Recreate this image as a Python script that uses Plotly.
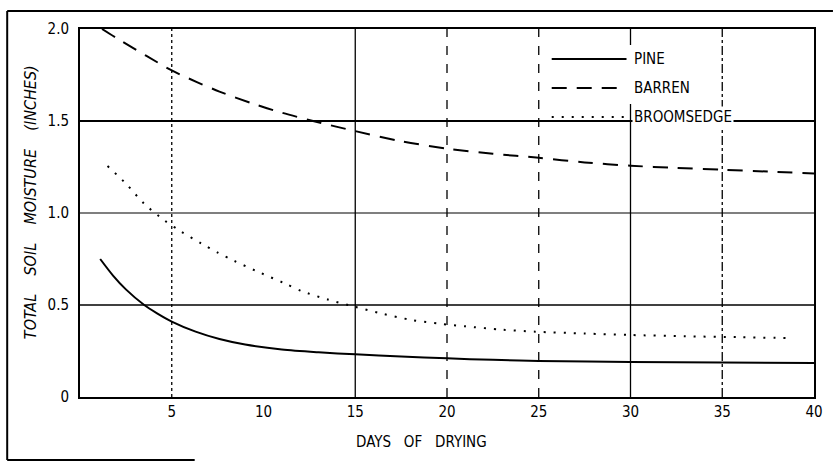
import plotly.graph_objects as go

# ---------------- data ----------------
pine_days = [1.1, 1.8, 2.5, 3.5, 4.2, 5.0, 6.3, 7.6, 9.0, 11.0, 13.0, 15.0, 17.5, 20.0, 22.5, 25.0, 30.0, 35.0, 40.0]
pine_moisture = [0.75, 0.66, 0.585, 0.50, 0.455, 0.41, 0.355, 0.315, 0.285, 0.258, 0.243, 0.232, 0.22, 0.21, 0.202, 0.196, 0.19, 0.187, 0.185]

barren_days = [1.2, 2.0, 3.6, 5.0, 6.4, 7.6, 9.4, 11.0, 12.7, 15.0, 17.5, 20.0, 22.5, 25.0, 27.5, 30.0, 32.5, 35.0, 37.5, 40.0]
barren_moisture = [2.0, 1.95, 1.855, 1.775, 1.71, 1.66, 1.595, 1.545, 1.50, 1.445, 1.39, 1.35, 1.322, 1.30, 1.275, 1.257, 1.245, 1.235, 1.225, 1.215]

broom_days = [1.5, 2.5, 3.5, 4.6, 5.5, 6.6, 7.5, 8.4, 9.6, 11.1, 12.1, 13.5, 15.0, 16.5, 18.1, 19.7,
              21.0, 23.0, 24.8, 27.5, 30.0, 33.0, 36.0, 38.6]
broom_moisture = [1.255, 1.16, 1.05, 0.96, 0.90, 0.835, 0.785, 0.74, 0.685, 0.62, 0.575, 0.53, 0.49, 0.452, 0.418, 0.397,
                  0.384, 0.366, 0.355, 0.345, 0.337, 0.33, 0.325, 0.32]

legend_labels = ["PINE", "BARREN", "BROOMSEDGE"]
x_ticks = [5, 10, 15, 20, 25, 30, 35, 40]
y_ticks = [0, 0.5, 1.0, 1.5, 2.0]
y_tick_text = ["0", "0.5", "1.0", "1.5", "2.0"]
x_title = "DAYS OF DRYING"
y_title = "TOTAL SOIL MOISTURE (INCHES)"

# ---------------- layout geometry ----------------
W, H = 835, 462
L, R, T, B = 80, 19, 29, 65
PW, PH = W - L - R, H - T - B


def px(x):
    return (x - L) / PW


def py(y):
    return (H - B - y) / PH


FONT = "Liberation Sans Narrow, DejaVu Sans Condensed, Arial Narrow, sans-serif"
NB = "\u00a0"

fig = go.Figure()

fig.add_trace(go.Scatter(x=pine_days, y=pine_moisture, mode="lines", name=legend_labels[0],
                         line=dict(color="black", width=2, shape="spline", smoothing=0.8)))
fig.add_trace(go.Scatter(x=barren_days, y=barren_moisture, mode="lines", name=legend_labels[1],
                         line=dict(color="black", width=2, dash="15px,10px", shape="spline", smoothing=0.8)))
fig.add_trace(go.Scatter(x=broom_days, y=broom_moisture, mode="lines", name=legend_labels[2],
                         line=dict(color="black", width=2, dash="2px,8px", shape="spline", smoothing=0.8)))

shapes = []
# vertical grid lines (scanned look: varied dash)
vgrid_dash = {5: "dot", 15: "solid", 20: "dash", 25: "dash", 30: "solid", 35: "dashdot"}
for xv in x_ticks:
    if xv in vgrid_dash:
        shapes.append(dict(type="line", xref="x", yref="paper", x0=xv, x1=xv, y0=0, y1=1,
                           line=dict(color="black", width=1.3, dash=vgrid_dash[xv]), layer="below"))
# horizontal grid lines
for yv, wdt in zip(y_ticks[1:-1], [1.6, 1.2, 1.8]):
    shapes.append(dict(type="line", xref="paper", yref="y", x0=0, x1=1, y0=yv, y1=yv,
                       line=dict(color="black", width=wdt), layer="below"))
# white patch behind legend text
shapes.append(dict(type="rect", xref="paper", yref="paper", x0=px(630), x1=px(716), y0=py(104), y1=py(45),
                   fillcolor="white", line=dict(width=0), layer="below"))
# legend sample lines
legend_dash = ["solid", "15px,10px", "2px,8px"]
legend_y = [59, 88, 117]
for d, ly in zip(legend_dash, legend_y):
    shapes.append(dict(type="line", xref="paper", yref="paper", x0=px(553), x1=px(628), y0=py(ly), y1=py(ly),
                       line=dict(color="black", width=2, dash=d), layer="above"))
# outer frame of the figure (left, top, partial bottom)
shapes.append(dict(type="line", xref="paper", yref="paper", x0=px(7), x1=px(7), y0=py(460), y1=py(11),
                   line=dict(color="black", width=2)))
shapes.append(dict(type="line", xref="paper", yref="paper", x0=px(7), x1=px(835), y0=py(11), y1=py(11),
                   line=dict(color="black", width=2)))
shapes.append(dict(type="line", xref="paper", yref="paper", x0=px(7), x1=px(195), y0=py(460), y1=py(460),
                   line=dict(color="black", width=2)))

annotations = []
for lab, ly in zip(legend_labels, legend_y):
    annotations.append(dict(xref="paper", yref="paper", x=px(634), y=py(ly), text=lab, showarrow=False,
                            xanchor="left", yanchor="middle", bgcolor="white", borderpad=1,
                            font=dict(family=FONT, size=15, color="black")))
annotations.append(dict(xref="paper", yref="paper", x=px(422), y=py(442),
                        text=x_title.replace(" ", NB * 3), showarrow=False,
                        xanchor="center", yanchor="middle",
                        font=dict(family=FONT, size=15, color="black")))
annotations.append(dict(xref="paper", yref="paper", x=px(30), y=py(202),
                        text="<i>" + y_title.replace(" ", NB * 4) + "</i>", showarrow=False, textangle=-90,
                        xanchor="center", yanchor="middle",
                        font=dict(family=FONT, size=16, color="black")))

fig.update_layout(
    width=W, height=H,
    margin=dict(l=L, r=R, t=T, b=B),
    paper_bgcolor="white", plot_bgcolor="white",
    showlegend=False,
    shapes=shapes, annotations=annotations,
    xaxis=dict(range=[0, 40], tickvals=x_ticks, ticktext=[str(v) for v in x_ticks],
               showgrid=False, zeroline=False, showline=True, mirror=True, linecolor="black", linewidth=2,
               ticks="", tickfont=dict(family=FONT, size=15, color="black")),
    yaxis=dict(range=[0, 2.0], tickvals=y_ticks, ticktext=y_tick_text,
               showgrid=False, zeroline=False, showline=True, mirror=True, linecolor="black", linewidth=2,
               ticks="", ticklabelstandoff=6, tickfont=dict(family=FONT, size=15, color="black")),
)

fig.write_html("out.html")
